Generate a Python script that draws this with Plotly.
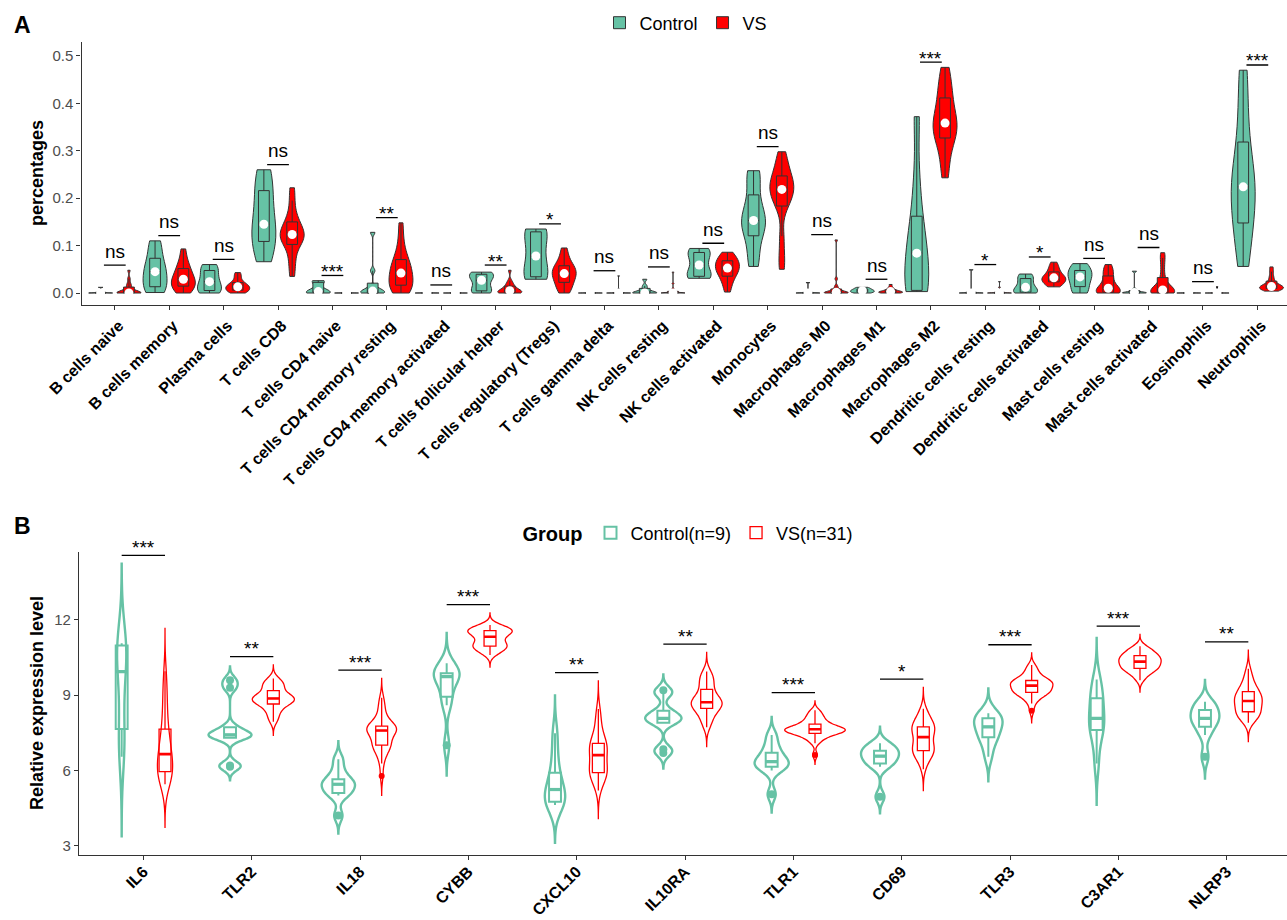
import numpy as np
import plotly.graph_objects as go

# ------------------------------------------------------------------ data
CELL_TYPES = ["B cells naive", "B cells memory", "Plasma cells", "T cells CD8", "T cells CD4 naive",
              "T cells CD4 memory resting", "T cells CD4 memory activated", "T cells follicular helper",
              "T cells regulatory (Tregs)", "T cells gamma delta", "NK cells resting", "NK cells activated",
              "Monocytes", "Macrophages M0", "Macrophages M1", "Macrophages M2", "Dendritic cells resting",
              "Dendritic cells activated", "Mast cells resting", "Mast cells activated", "Eosinophils", "Neutrophils"]

A_CONTROL = [
    [0, 0, 0, 0, 0, 0.001, 0.001, 0.002, 0.012],
    [0.001, 0.008, 0.015, 0.03, 0.045, 0.055, 0.066, 0.095, 0.11],
    [0, 0.003, 0.006, 0.015, 0.024, 0.032, 0.045, 0.055, 0.06],
    [0.066, 0.09, 0.115, 0.13, 0.145, 0.18, 0.208, 0.24, 0.26],
    [0, 0, 0.001, 0.002, 0.003, 0.005, 0.022, 0.024, 0.026],
    [0, 0, 0, 0.002, 0.004, 0.008, 0.012, 0.047, 0.128],
    [0, 0, 0, 0, 0, 0, 0, 0.0005, 0.001],
    [0, 0.003, 0.005, 0.015, 0.027, 0.032, 0.039, 0.041, 0.044],
    [0.029, 0.032, 0.035, 0.06, 0.078, 0.1, 0.128, 0.132, 0.135],
    [0, 0, 0, 0, 0, 0, 0, 0.0005, 0.001],
    [0, 0, 0, 0, 0, 0.003, 0.008, 0.015, 0.029],
    [0.031, 0.033, 0.036, 0.045, 0.059, 0.075, 0.084, 0.09, 0.094],
    [0.056, 0.09, 0.131, 0.14, 0.153, 0.17, 0.196, 0.24, 0.258],
    [0, 0, 0, 0, 0, 0, 0.001, 0.002, 0.022],
    [0, 0.001, 0.002, 0.004, 0.005, 0.006, 0.008, 0.01, 0.012],
    [0.003, 0.004, 0.006, 0.04, 0.084, 0.11, 0.14, 0.228, 0.372],
    [0, 0, 0, 0, 0, 0, 0.001, 0.003, 0.049],
    [0, 0.001, 0.002, 0.006, 0.012, 0.02, 0.029, 0.035, 0.04],
    [0, 0.003, 0.017, 0.025, 0.034, 0.04, 0.045, 0.055, 0.062],
    [0, 0, 0, 0, 0.001, 0.002, 0.004, 0.008, 0.046],
    [0, 0, 0, 0, 0, 0, 0, 0.0005, 0.001],
    [0.056, 0.12, 0.157, 0.2, 0.224, 0.25, 0.298, 0.38, 0.47],
]

A_VS = [
    [0, 0, 0, 0, 0, 0, 0, 0, 0, 0.003, 0.006, 0.01, 0.015, 0.02, 0.03, 0.048],
    [0, 0.003, 0.008, 0.012, 0.017, 0.02, 0.024, 0.027, 0.031, 0.036, 0.042, 0.048, 0.055, 0.062, 0.075, 0.093],
    [0, 0.001, 0.003, 0.005, 0.007, 0.009, 0.011, 0.012, 0.014, 0.016, 0.018, 0.02, 0.024, 0.03, 0.037, 0.043],
    [0.035, 0.06, 0.08, 0.098, 0.107, 0.112, 0.117, 0.121, 0.126, 0.132, 0.138, 0.145, 0.155, 0.17, 0.195, 0.222],
    [0, 0, 0, 0, 0, 0, 0, 0, 0, 0, 0, 0, 0, 0.0005, 0.001, 0.001],
    [0, 0.003, 0.008, 0.014, 0.019, 0.025, 0.032, 0.038, 0.046, 0.052, 0.058, 0.066, 0.075, 0.09, 0.115, 0.148],
    [0, 0, 0, 0, 0, 0, 0, 0, 0, 0, 0, 0, 0.001, 0.002, 0.003, 0.006],
    [0, 0, 0, 0, 0.001, 0.002, 0.003, 0.004, 0.006, 0.008, 0.01, 0.013, 0.016, 0.02, 0.026, 0.048],
    [0, 0.005, 0.012, 0.02, 0.025, 0.03, 0.035, 0.039, 0.043, 0.047, 0.051, 0.055, 0.06, 0.068, 0.08, 0.095],
    [0, 0, 0, 0, 0, 0, 0, 0, 0, 0, 0, 0, 0.002, 0.004, 0.008, 0.036],
    [0, 0, 0, 0, 0, 0, 0, 0, 0, 0, 0, 0.002, 0.005, 0.01, 0.02, 0.044],
    [0.002, 0.015, 0.025, 0.033, 0.038, 0.043, 0.048, 0.051, 0.054, 0.058, 0.062, 0.066, 0.07, 0.074, 0.079, 0.086],
    [0.05, 0.08, 0.12, 0.175, 0.192, 0.2, 0.208, 0.215, 0.222, 0.228, 0.235, 0.242, 0.252, 0.265, 0.28, 0.298],
    [0, 0, 0, 0, 0, 0, 0, 0.001, 0.002, 0.003, 0.005, 0.007, 0.01, 0.015, 0.03, 0.112],
    [0, 0, 0, 0.001, 0.001, 0.002, 0.002, 0.003, 0.003, 0.004, 0.005, 0.006, 0.008, 0.01, 0.013, 0.018],
    [0.243, 0.27, 0.3, 0.322, 0.332, 0.34, 0.348, 0.355, 0.362, 0.372, 0.385, 0.405, 0.418, 0.435, 0.455, 0.476],
    [0, 0, 0, 0, 0, 0, 0, 0, 0, 0, 0, 0.001, 0.002, 0.005, 0.012, 0.024],
    [0.013, 0.016, 0.019, 0.022, 0.025, 0.027, 0.029, 0.031, 0.033, 0.035, 0.038, 0.042, 0.047, 0.052, 0.058, 0.065],
    [0, 0, 0, 0.001, 0.002, 0.004, 0.006, 0.008, 0.012, 0.018, 0.025, 0.032, 0.04, 0.046, 0.052, 0.06],
    [0, 0, 0, 0, 0.001, 0.002, 0.003, 0.005, 0.008, 0.012, 0.018, 0.025, 0.04, 0.058, 0.074, 0.085],
    [0, 0, 0, 0, 0, 0, 0, 0, 0, 0, 0, 0, 0.001, 0.002, 0.004, 0.013],
    [0.004, 0.006, 0.008, 0.009, 0.01, 0.011, 0.012, 0.013, 0.014, 0.016, 0.018, 0.022, 0.028, 0.035, 0.045, 0.055],
]

A_SIG = ["ns", "ns", "ns", "ns", "***", "**", "ns", "**", "*", "ns", "ns",
         "ns", "ns", "ns", "ns", "***", "*", "*", "ns", "ns", "ns", "***"]
A_YTICKS = [0.0, 0.1, 0.2, 0.3, 0.4, 0.5]

GENES = ["IL6", "TLR2", "IL18", "CYBB", "CXCL10", "IL10RA", "TLR1", "CD69", "TLR3", "C3AR1", "NLRP3"]

B_CONTROL = [
    [6.55, 7.0, 7.65, 9.0, 9.94, 10.6, 10.98, 11.0, 11.07],
    [6.15, 6.2, 7.3, 7.38, 7.42, 7.48, 7.72, 9.3, 9.6],
    [4.2, 5.0, 5.1, 5.3, 5.45, 5.55, 5.65, 6.0, 6.45],
    [7.0, 8.6, 8.94, 9.5, 9.74, 9.8, 9.87, 10.0, 10.27],
    [4.62, 4.7, 4.75, 5.0, 5.24, 5.5, 5.91, 6.6, 7.48],
    [6.7, 6.85, 7.9, 8.0, 8.08, 8.2, 8.38, 9.05, 9.2],
    [5.05, 6.0, 6.15, 6.25, 6.35, 6.5, 6.71, 7.0, 7.41],
    [4.95, 6.15, 6.28, 6.45, 6.57, 6.7, 6.79, 6.95, 7.08],
    [6.55, 7.1, 7.32, 7.55, 7.74, 7.9, 8.08, 8.2, 8.28],
    [6.28, 7.3, 7.61, 7.9, 8.08, 8.5, 8.88, 9.2, 9.63],
    [6.55, 7.41, 7.74, 7.95, 8.08, 8.2, 8.41, 8.6, 8.74],
]

B_VS = [
    [5.45, 5.55, 5.62, 5.7, 5.78, 5.85, 5.9, 5.93, 5.97, 6.05, 6.15, 6.25, 6.35, 6.45, 6.55, 6.65,
     6.75, 6.85, 6.95, 7.05, 7.2, 7.4, 7.55, 7.75, 8.0, 8.3, 8.6, 8.9, 9.2, 9.6, 9.95],
    [7.94, 8.05, 8.2, 8.3, 8.4, 8.5, 8.58, 8.63, 8.67, 8.7, 8.73, 8.76, 8.79, 8.82, 8.85, 8.87,
     8.89, 8.91, 8.94, 8.97, 9.0, 9.05, 9.12, 9.24, 9.3, 9.35, 9.4, 9.46, 9.52, 9.6, 9.67],
    [5.78, 6.28, 6.5, 6.7, 6.82, 6.9, 6.96, 6.99, 7.03, 7.1, 7.2, 7.3, 7.4, 7.47, 7.54, 7.59,
     7.62, 7.64, 7.66, 7.68, 7.7, 7.72, 7.75, 7.79, 7.85, 7.95, 8.1, 8.25, 8.45, 8.65, 8.9],
    [10.6, 10.68, 10.75, 10.8, 10.85, 10.89, 10.92, 10.95, 10.97, 11.0, 11.05, 11.1, 11.15, 11.2, 11.27, 11.33,
     11.38, 11.42, 11.46, 11.5, 11.52, 11.54, 11.56, 11.58, 11.6, 11.62, 11.65, 11.68, 11.72, 11.76, 11.8],
    [5.2, 5.4, 5.6, 5.72, 5.8, 5.85, 5.88, 5.9, 5.93, 6.0, 6.1, 6.2, 6.3, 6.4, 6.5, 6.61,
     6.7, 6.78, 6.85, 6.92, 6.98, 7.03, 7.06, 7.1, 7.2, 7.35, 7.5, 7.7, 7.95, 8.2, 8.45],
    [7.72, 7.85, 7.98, 8.1, 8.2, 8.3, 8.38, 8.45, 8.5, 8.54, 8.58, 8.62, 8.65, 8.68, 8.7, 8.72,
     8.76, 8.8, 8.85, 8.9, 8.96, 9.05, 9.18, 9.28, 9.38, 9.48, 9.57, 9.66, 9.75, 9.85, 9.94],
    [6.62, 7.08, 7.2, 7.3, 7.36, 7.4, 7.44, 7.47, 7.49, 7.52, 7.55, 7.57, 7.59, 7.61, 7.63, 7.64,
     7.65, 7.67, 7.69, 7.71, 7.74, 7.78, 7.83, 7.87, 7.92, 7.98, 8.05, 8.12, 8.2, 8.3, 8.4],
    [6.05, 6.3, 6.45, 6.55, 6.62, 6.68, 6.73, 6.77, 6.81, 6.86, 6.92, 6.98, 7.05, 7.12, 7.22, 7.33,
     7.42, 7.5, 7.56, 7.61, 7.65, 7.69, 7.72, 7.76, 7.82, 7.9, 7.98, 8.06, 8.16, 8.3, 8.46],
    [8.38, 8.67, 8.8, 8.9, 8.98, 9.03, 9.07, 9.1, 9.12, 9.15, 9.18, 9.22, 9.26, 9.3, 9.34, 9.38,
     9.41, 9.44, 9.47, 9.5, 9.53, 9.55, 9.57, 9.6, 9.64, 9.7, 9.78, 9.86, 9.96, 10.08, 10.2],
    [9.6, 9.72, 9.82, 9.9, 9.96, 10.0, 10.04, 10.06, 10.08, 10.12, 10.16, 10.2, 10.24, 10.28, 10.31, 10.34,
     10.37, 10.4, 10.43, 10.46, 10.5, 10.53, 10.56, 10.6, 10.64, 10.68, 10.72, 10.77, 10.83, 10.89, 10.95],
    [7.9, 8.0, 8.08, 8.15, 8.2, 8.25, 8.29, 8.32, 8.36, 8.42, 8.5, 8.58, 8.64, 8.69, 8.73, 8.77,
     8.81, 8.85, 8.9, 8.95, 9.0, 9.06, 9.12, 9.16, 9.22, 9.3, 9.4, 9.52, 9.66, 9.82, 10.05],
]

B_SIG = ["***", "**", "***", "***", "**", "**", "***", "*", "***", "***", "**"]
B_YTICKS = [3, 6, 9, 12]
GROUP_NAMES_A = ["Control", "VS"]
GROUP_NAMES_B = ["Control(n=9)", "VS(n=31)"]

# ------------------------------------------------------------------ style / geometry
FONT = "Liberation Sans, Arial, Helvetica, sans-serif"
GREEN = "#66C2A5"
RED = "#FF0000"
DARK = "#333333"
GRAY = "#4D4D4D"
W, H = 1287, 920


def dom_x(a, b):
    return [a / W, b / W]


def dom_y(top, bottom):
    return [1 - bottom / H, 1 - top / H]


def bw_nrd0(x):
    x = np.asarray(x, float)
    hi = x.std(ddof=1)
    q25, q75 = np.percentile(x, [25, 75])
    lo = min(hi, (q75 - q25) / 1.34)
    if not lo > 0:
        lo = hi if hi > 0 else (abs(x[0]) if x[0] != 0 else 1.0)
    return 0.9 * lo * len(x) ** (-0.2)


def kde_max(x, bw):
    grid = np.linspace(x.min() - 3 * bw, x.max() + 3 * bw, 800)
    z = (grid[:, None] - x[None, :]) / bw
    d = np.exp(-0.5 * z * z).sum(axis=1) / (len(x) * bw * np.sqrt(2 * np.pi))
    return d.max()


fig = go.Figure()

# ------------------------------------------------------------------ panel A
OFF_A = 0.26
VW_A = 0.44
dots_x, dots_y = [], []
br_x, br_y = [], []
annotations = []
for i in range(len(CELL_TYPES)):
    groups = [(A_CONTROL[i], GREEN, -OFF_A, GROUP_NAMES_A[0]), (A_VS[i], RED, OFF_A, GROUP_NAMES_A[1])]
    for vals, col, off, name in groups:
        v = np.asarray(vals, float)
        fig.add_trace(go.Violin(
            x=[i + off] * len(v), y=v, xaxis="x", yaxis="y",
            width=VW_A, bandwidth=bw_nrd0(v), spanmode="hard", scalemode="width", side="both",
            fillcolor=col, line=dict(color=DARK, width=1), opacity=1,
            box=dict(visible=True, width=0.45, fillcolor=col, line=dict(color=DARK, width=1)),
            meanline=dict(visible=False), points=False,
            name=name, legendgroup=name, showlegend=(i == 0), legend="legend", hoverinfo="skip"))
        dots_x.append(i + off)
        dots_y.append(float(np.median(v)))
    top = max(max(A_CONTROL[i]), max(A_VS[i])) + 0.011
    br_x += [i - 0.2, i + 0.2, None]
    br_y += [top, top, None]
    lab = A_SIG[i]
    annotations.append(dict(x=i, y=top, xref="x", yref="y", text=lab, showarrow=False,
                             yanchor="middle", yshift=14 if lab == "ns" else 4,
                             font=dict(family=FONT, size=19, color="black")))

fig.add_trace(go.Scatter(x=dots_x, y=dots_y, xaxis="x", yaxis="y", mode="markers",
                         marker=dict(color="white", size=9, line=dict(width=0)),
                         showlegend=False, hoverinfo="skip"))
fig.add_trace(go.Scatter(x=br_x, y=br_y, xaxis="x", yaxis="y", mode="lines",
                         line=dict(color="black", width=1.3), showlegend=False, hoverinfo="skip"))

# ------------------------------------------------------------------ panel B
OFF_B = 0.2
W_MAX_B = 0.56
BOX_W_B = 0.11
specs = []
for i in range(len(GENES)):
    for vals, col, off, gi in [(B_CONTROL[i], GREEN, -OFF_B, 0), (B_VS[i], RED, OFF_B, 1)]:
        v = np.asarray(vals, float)
        bw = bw_nrd0(v)
        specs.append((i, v, col, off, gi, bw, kde_max(v, bw)))
max_all = max(s[6] for s in specs)

med_x = {0: [], 1: []}
med_y = {0: [], 1: []}
for i, v, col, off, gi, bw, md in specs:
    lw = 2.4 if gi == 0 else 1.3
    fig.add_trace(go.Violin(
        x=[i + off] * len(v), y=v, xaxis="x2", yaxis="y2",
        width=W_MAX_B * md / max_all, bandwidth=bw, spanmode="manual",
        span=[v.min() - 3 * bw, v.max() + 3 * bw], scalemode="width", side="both",
        fillcolor="rgba(0,0,0,0)", line=dict(color=col, width=lw),
        box=dict(visible=False), meanline=dict(visible=False), points=False,
        showlegend=False, hoverinfo="skip"))
for i, v, col, off, gi, bw, md in specs:
    fig.add_trace(go.Box(
        x=[i + off] * len(v), y=v, xaxis="x2", yaxis="y2", width=BOX_W_B,
        boxpoints="outliers", jitter=0, pointpos=0, quartilemethod="inclusive",
        fillcolor="rgba(0,0,0,0)", line=dict(color=col, width=2 if gi == 0 else 1.3),
        whiskerwidth=0, marker=dict(color=col, size=8 if gi == 0 else 6, line=dict(width=0)),
        name=GROUP_NAMES_B[gi], legendgroup=GROUP_NAMES_B[gi], showlegend=(i == 0),
        legend="legend2", hoverinfo="skip"))
    med_x[gi] += [i + off - BOX_W_B / 2, i + off + BOX_W_B / 2, None]
    med = float(np.median(v))
    med_y[gi] += [med, med, None]
for gi, col, lw in [(0, GREEN, 3.2), (1, RED, 2.6)]:
    fig.add_trace(go.Scatter(x=med_x[gi], y=med_y[gi], xaxis="x2", yaxis="y2", mode="lines",
                             line=dict(color=col, width=lw), showlegend=False, hoverinfo="skip"))

brb_x, brb_y = [], []
for i in range(len(GENES)):
    tops = [s[1].max() + 3 * s[5] for s in specs if s[0] == i]
    top = max(tops) + 0.33
    brb_x += [i - 0.2, i + 0.2, None]
    brb_y += [top, top, None]
    annotations.append(dict(x=i, y=top, xref="x2", yref="y2", text=B_SIG[i], showarrow=False,
                             yanchor="middle", yshift=8,
                             font=dict(family=FONT, size=19, color="black")))
fig.add_trace(go.Scatter(x=brb_x, y=brb_y, xaxis="x2", yaxis="y2", mode="lines",
                         line=dict(color="black", width=1.3), showlegend=False, hoverinfo="skip"))

# ------------------------------------------------------------------ text annotations
annotations += [
    dict(x=22 / W, y=1 - 25 / H, xref="paper", yref="paper", text="<b>A</b>", showarrow=False,
         xanchor="center", yanchor="middle", font=dict(family=FONT, size=23, color="black")),
    dict(x=22 / W, y=1 - 526 / H, xref="paper", yref="paper", text="<b>B</b>", showarrow=False,
         xanchor="center", yanchor="middle", font=dict(family=FONT, size=23, color="black")),
    dict(x=37 / W, y=1 - 173 / H, xref="paper", yref="paper", text="<b>percentages</b>", showarrow=False,
         textangle=-90, xanchor="center", yanchor="middle", font=dict(family=FONT, size=18, color="black")),
    dict(x=37 / W, y=1 - 703 / H, xref="paper", yref="paper", text="<b>Relative expression level</b>",
         showarrow=False, textangle=-90, xanchor="center", yanchor="middle",
         font=dict(family=FONT, size=18, color="black")),
]

axis_common = dict(showgrid=False, zeroline=False, showline=True, linecolor=DARK, linewidth=1.3,
                   ticks="outside", ticklen=4, tickcolor=DARK, tickwidth=1.2, automargin=False)

fig.update_layout(
    template="none",
    width=W, height=H, margin=dict(l=0, r=0, t=0, b=0, pad=0), autosize=False,
    paper_bgcolor="white", plot_bgcolor="white", hovermode=False,
    violinmode="overlay", boxmode="overlay",
    font=dict(family=FONT, color="black"),
    xaxis=dict(domain=dom_x(81.5, 1287), range=[-0.612, 21.545], anchor="y",
               tickmode="array", tickvals=list(range(len(CELL_TYPES))),
               ticktext=[f"<b>{c}</b>" for c in CELL_TYPES], tickangle=-45, ticklabelshift=4,
               tickfont=dict(family=FONT, size=16, color="black"), **axis_common),
    yaxis=dict(domain=dom_y(42, 305), range=[-0.0253, 0.5295], anchor="x",
               tickmode="array", tickvals=A_YTICKS, ticktext=[f"{t:.1f}" for t in A_YTICKS],
               tickfont=dict(family=FONT, size=15, color=GRAY), **axis_common),
    xaxis2=dict(domain=dom_x(79, 1287), range=[-0.594, 10.557], anchor="y2",
                tickmode="array", tickvals=list(range(len(GENES))),
                ticktext=[f"<b>{g}</b>" for g in GENES], tickangle=-45, ticklabelstandoff=-4,
                tickfont=dict(family=FONT, size=16, color="black"), **axis_common),
    yaxis2=dict(domain=dom_y(551.7, 855), range=[2.63, 14.72], anchor="x2",
                tickmode="array", tickvals=B_YTICKS, ticktext=[str(t) for t in B_YTICKS],
                tickfont=dict(family=FONT, size=15, color=GRAY), **axis_common),
    legend=dict(orientation="h", x=686 / W, xanchor="center", y=1 - 23 / H, yanchor="middle",
                font=dict(family=FONT, size=18, color="black"), bgcolor="rgba(0,0,0,0)",
                itemclick=False, itemdoubleclick=False),
    legend2=dict(orientation="h", x=689.5 / W, xanchor="center", y=1 - 533 / H, yanchor="middle",
                 title=dict(text="<b>Group</b>", side="left", font=dict(family=FONT, size=20, color="black")),
                 font=dict(family=FONT, size=18, color="black"), bgcolor="rgba(0,0,0,0)",
                 itemclick=False, itemdoubleclick=False),
    annotations=annotations,
)

fig.write_html("out.html", config={"displayModeBar": False},
               post_script="document.body.style.margin='0';document.body.style.overflow='hidden';")
